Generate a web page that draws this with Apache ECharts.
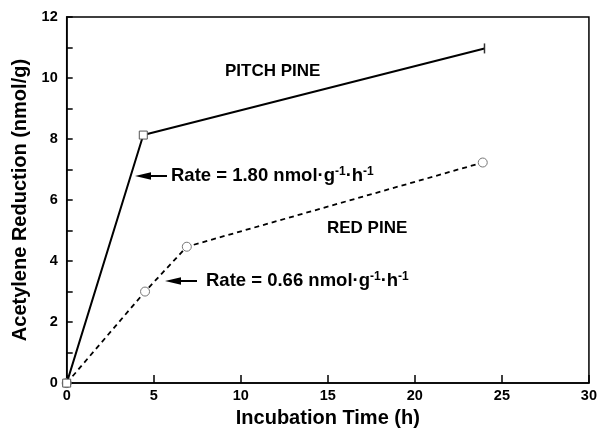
<!DOCTYPE html>
<html>
<head>
<meta charset="utf-8">
<script src="https://cdn.jsdelivr.net/npm/echarts@6/dist/echarts.min.js"></script>
<style>html,body{margin:0;padding:0;background:#fff}#c{width:600px;height:433px}</style>
</head>
<body>
<div id="c"></div>
<script>
var pitchTime = [0, 4.4, 24];
var pitchValue = [0, 8.13, 10.97];
var redTime = [0, 4.5, 6.9, 23.9];
var redValue = [0, 3.0, 4.47, 7.23];
var xTicks = [0, 5, 10, 15, 20, 25, 30];
var yTicks = [0, 2, 4, 6, 8, 10, 12];

var FONT = '"Liberation Sans", Arial, Helvetica, sans-serif';
var chart = echarts.init(document.getElementById('c'), null, {renderer: 'canvas'});

function pairs(xs, ys) { return xs.map(function (x, i) { return [x, ys[i]]; }); }

var pitchData = pairs(pitchTime, pitchValue).map(function (p, i) {
  if (i === pitchTime.length - 1) {
    return {value: p, symbol: 'rect', symbolSize: [1.5, 10], itemStyle: {color: '#333', borderWidth: 0}};
  }
  return {value: p};
});

var rich = {
  sup: {fontSize: 12, fontWeight: 'bold', fontFamily: FONT, color: '#000', verticalAlign: 'top', padding: [0, 0, 9, 0]},
  n: {fontSize: 18.5, fontWeight: 'bold', fontFamily: FONT, color: '#000'}
};

function txt(x, y, text, size) {
  return {type: 'text', left: x, top: y, style: {text: text, font: 'bold ' + size + 'px ' + FONT, fill: '#000'}};
}
function richText(x, y, rate) {
  return {
    type: 'text', x: x, y: y,
    style: {
      text: '{n|Rate = ' + rate + ' nmol·g}{sup|-1}{n|·h}{sup|-1}',
      rich: rich, verticalAlign: 'middle', align: 'left'
    }
  };
}
function arrow(tipX, y, tailX) {
  return [
    {type: 'line', shape: {x1: tipX + 12, y1: y, x2: tailX, y2: y}, style: {stroke: '#000', lineWidth: 2}},
    {type: 'polygon', shape: {points: [[tipX, y], [tipX + 16, y - 3.8], [tipX + 16, y + 3.8]]}, style: {fill: '#000'}}
  ];
}

var graphics = [].concat(
  arrow(135, 176, 167),
  arrow(165, 281, 197),
  [richText(171, 176, '1.80'), richText(206, 281, '0.66')],
  [txt(225, 63, 'PITCH PINE', 17), txt(327, 220, 'RED PINE', 17)]
);

chart.setOption({
  animation: false,
  backgroundColor: '#fff',
  grid: {left: 66.7, right: 11, top: 17, bottom: 42, show: true, borderColor: '#000', borderWidth: 1.5, backgroundColor: 'transparent'},
  xAxis: {
    type: 'value', min: 0, max: 30, interval: 5,
    name: 'Incubation Time (h)', nameLocation: 'middle', nameGap: 21,
    nameTextStyle: {fontSize: 20, fontWeight: 'bold', fontFamily: FONT, color: '#000'},
    axisLine: {show: true, lineStyle: {color: '#000', width: 1.5}},
    axisTick: {show: true, inside: true, length: 8, lineStyle: {color: '#000', width: 1.5}},
    axisLabel: {fontSize: 14.5, fontWeight: 'bold', fontFamily: FONT, color: '#000', margin: 5,
      formatter: function (v) { return xTicks.indexOf(v) >= 0 ? String(v) : ''; }},
    splitLine: {show: false}
  },
  yAxis: {
    type: 'value', min: 0, max: 12, interval: 1,
    name: 'Acetylene Reduction (nmol/g)', nameLocation: 'middle', nameGap: 25,
    nameTextStyle: {fontSize: 20, fontWeight: 'bold', fontFamily: FONT, color: '#000'},
    axisLine: {show: true, lineStyle: {color: '#000', width: 1.5}},
    axisTick: {show: true, inside: true, length: 6, lineStyle: {color: '#000', width: 1.5}},
    axisLabel: {fontSize: 14.5, fontWeight: 'bold', fontFamily: FONT, color: '#000', margin: 9,
      formatter: function (v) { return yTicks.indexOf(v) >= 0 ? String(v) : ''; }},
    splitLine: {show: false}
  },
  series: [
    {
      name: 'PITCH PINE', type: 'line', data: pitchData, clip: false,
      symbol: 'rect', symbolSize: 8, showAllSymbol: true,
      lineStyle: {color: '#000', width: 2},
      itemStyle: {color: '#fff', borderColor: '#555', borderWidth: 1},
      z: 3
    },
    {
      name: 'RED PINE', type: 'line', data: pairs(redTime, redValue), clip: false,
      symbol: 'circle', symbolSize: 9, showAllSymbol: true,
      lineStyle: {color: '#000', width: 1.8, type: [5, 4]},
      itemStyle: {color: '#fff', borderColor: '#777', borderWidth: 1},
      z: 2
    }
  ],
  graphic: graphics
});
</script>
</body>
</html>
